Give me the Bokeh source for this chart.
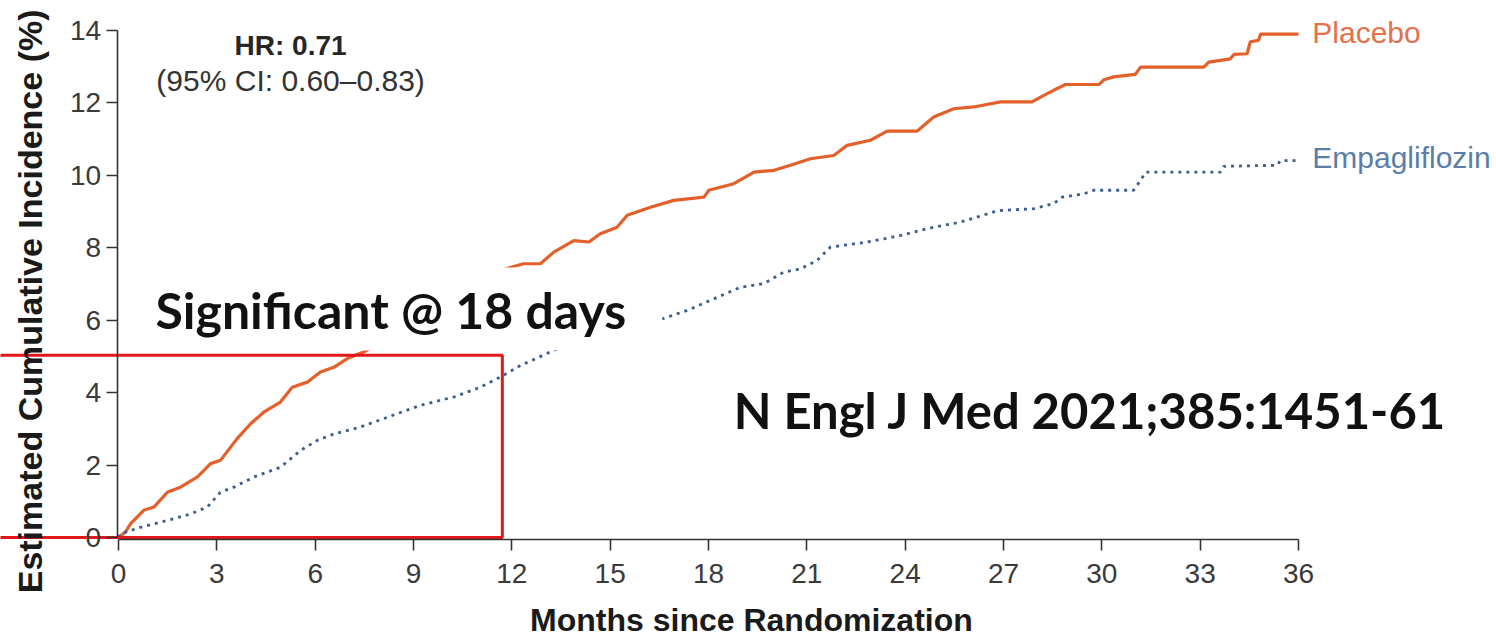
import math
from bokeh.plotting import figure
from bokeh.models import Range1d, Label, FixedTicker
from bokeh.embed import file_html
from bokeh.resources import INLINE

# Kaplan-Meier style cumulative incidence (%) by month since randomization
placebo_months = [0.0, 0.21, 0.37, 0.77, 1.08, 1.49, 1.89, 2.40, 2.81, 3.11, 3.62, 4.03, 4.43,
                  4.94, 5.30, 5.76, 6.16, 6.57, 6.98, 7.48,
                  11.81, 12.36, 12.87, 13.28, 13.89, 14.35, 14.70, 15.21, 15.52, 16.23, 16.94,
                  17.86, 18.01, 18.77, 19.39, 20.00, 20.50, 21.11, 21.82, 22.23, 22.94, 23.45,
                  24.36, 24.87, 25.48, 26.09, 26.91, 27.87, 28.23, 28.53, 28.89, 29.91, 30.06,
                  30.36, 31.02, 31.18, 33.11, 33.26, 33.92, 34.03, 34.43, 34.53, 34.78, 34.84, 36.0]
placebo_pct = [0.0, 0.15, 0.38, 0.75, 0.84, 1.25, 1.39, 1.67, 2.04, 2.13, 2.73, 3.14, 3.46,
               3.74, 4.15, 4.29, 4.57, 4.70, 4.94, 5.12,
               7.42, 7.56, 7.56, 7.88, 8.20, 8.16, 8.39, 8.57, 8.90, 9.12, 9.31,
               9.40, 9.59, 9.77, 10.09, 10.14, 10.28, 10.46, 10.55, 10.83, 10.97, 11.22,
               11.22, 11.61, 11.84, 11.89, 12.03, 12.03, 12.21, 12.35, 12.51, 12.51, 12.64,
               12.72, 12.79, 12.99, 12.99, 13.13, 13.22, 13.34, 13.36, 13.69, 13.73, 13.90, 13.90]

empa_months = [0.0, 0.06, 0.67, 1.49, 2.20, 2.71, 3.11, 3.52, 4.13, 4.94, 5.55, 6.06, 6.57,
               7.38, 8.20, 9.21, 10.23, 11.04, 11.65, 12.26, 13.29,
               16.59, 17.35, 18.16, 18.97, 19.69, 20.30, 20.81, 21.31, 21.72, 22.84, 23.86,
               24.67, 25.69, 26.70, 26.91, 27.93, 28.53, 28.79, 29.45, 29.75, 30.97, 31.18,
               31.33, 33.62, 33.72, 35.35, 35.45, 36.0]
empa_pct = [0.0, 0.10, 0.28, 0.47, 0.65, 0.84, 1.25, 1.39, 1.67, 1.94, 2.40, 2.68, 2.86,
            3.05, 3.32, 3.65, 3.88, 4.15, 4.43, 4.75, 5.17,
            6.04, 6.27, 6.59, 6.91, 7.01, 7.33, 7.42, 7.65, 8.02, 8.16, 8.34,
            8.53, 8.71, 8.99, 9.03, 9.08, 9.22, 9.40, 9.49, 9.59, 9.59, 9.86,
            10.09, 10.09, 10.25, 10.28, 10.41, 10.41]

x_ticks = [0, 3, 6, 9, 12, 15, 18, 21, 24, 27, 30, 33, 36]
y_ticks = [0, 2, 4, 6, 8, 10, 12, 14]

# early-benefit window highlighted on the chart (months, %)
window_months = 11.71
window_pct = 5.03

ORANGE = "#E3602A"
BLUE = "#3E5F8E"

p = figure(width=1496, height=638, output_backend="svg", toolbar_location=None,
           x_range=Range1d(-3.6, 42.04), y_range=Range1d(-2.79, 14.83),
           min_border=0, outline_line_color=None)
p.grid.visible = False
p.background_fill_color = "white"
p.border_fill_color = "white"

for ax in (p.xaxis[0], p.yaxis[0]):
    ax.axis_line_color = "#333333"
    ax.axis_line_width = 1.6
    ax.major_tick_line_color = "#333333"
    ax.major_tick_line_width = 1.6
    ax.major_tick_out = 11
    ax.major_tick_in = 0
    ax.minor_tick_line_color = None
    ax.major_label_text_font = "Liberation Sans"
    ax.major_label_text_font_size = "28px"
    ax.major_label_text_color = "#3a3a3a"

p.xaxis.ticker = FixedTicker(ticks=x_ticks)
p.yaxis.ticker = FixedTicker(ticks=y_ticks)
p.xaxis.bounds = (0, 36)
p.yaxis.bounds = (0, 14)
p.xaxis.fixed_location = -0.05
p.yaxis.fixed_location = -0.04
p.xaxis.major_label_standoff = 14
p.yaxis.major_label_standoff = 5

# axis titles
p.add_layout(Label(x=19.31, y=-2.29, text="Months since Randomization", text_align="center",
                   text_baseline="middle", text_font="Liberation Sans", text_font_style="bold",
                   text_font_size="32px", text_color="#1a1a1a"))
p.add_layout(Label(x=-2.685, y=6.52, text="Estimated Cumulative Incidence (%)", angle=math.pi / 2,
                   text_align="center", text_baseline="middle", text_font="Liberation Sans",
                   text_font_style="bold", text_font_size="34px", text_color="#1a1a1a"))

# curves
p.line(placebo_months, placebo_pct, line_color=ORANGE, line_width=3.2)
p.line(empa_months, empa_pct, line_color=BLUE, line_width=2.8, line_dash="3 5")

# highlight window
p.quad(left=-6, right=window_months, bottom=0, top=window_pct,
       fill_color=None, line_color="#E2191B", line_width=3)

# annotations
p.add_layout(Label(x=5.25, y=13.59, text="HR: 0.71", text_align="center", text_baseline="middle",
                   text_font="Liberation Sans", text_font_style="bold", text_font_size="28px",
                   text_color="#262626"))
p.add_layout(Label(x=5.25, y=12.62, text="(95% CI: 0.60\u20130.83)", text_align="center",
                   text_baseline="middle", text_font="Liberation Sans", text_font_size="30px",
                   text_color="#333333"))
p.add_layout(Label(x=36.42, y=13.95, text="Placebo", text_align="left", text_baseline="middle",
                   text_font="Liberation Sans", text_font_size="30px", text_color="#E5704A"))
p.add_layout(Label(x=36.42, y=10.49, text="Empagliflozin", text_align="left", text_baseline="middle",
                   text_font="Liberation Sans", text_font_size="30px", text_color="#5A7EA8"))
p.add_layout(Label(x=0.976, y=6.31, text="Significant @ 18 days", text_align="left",
                   text_baseline="middle", text_font="Lato", text_font_style="bold",
                   text_font_size="50px", text_color="#111111",
                   background_fill_color="white",
                   padding=dict(top=13, right=36, bottom=10, left=5)))
p.add_layout(Label(x=18.77, y=3.51, text="N Engl J Med 2021;385:1451-61", text_align="left",
                   text_baseline="middle", text_font="Lato", text_font_style="bold",
                   text_font_size="49px", text_color="#111111"))

open("out.html", "w").write(file_html(p, INLINE))
